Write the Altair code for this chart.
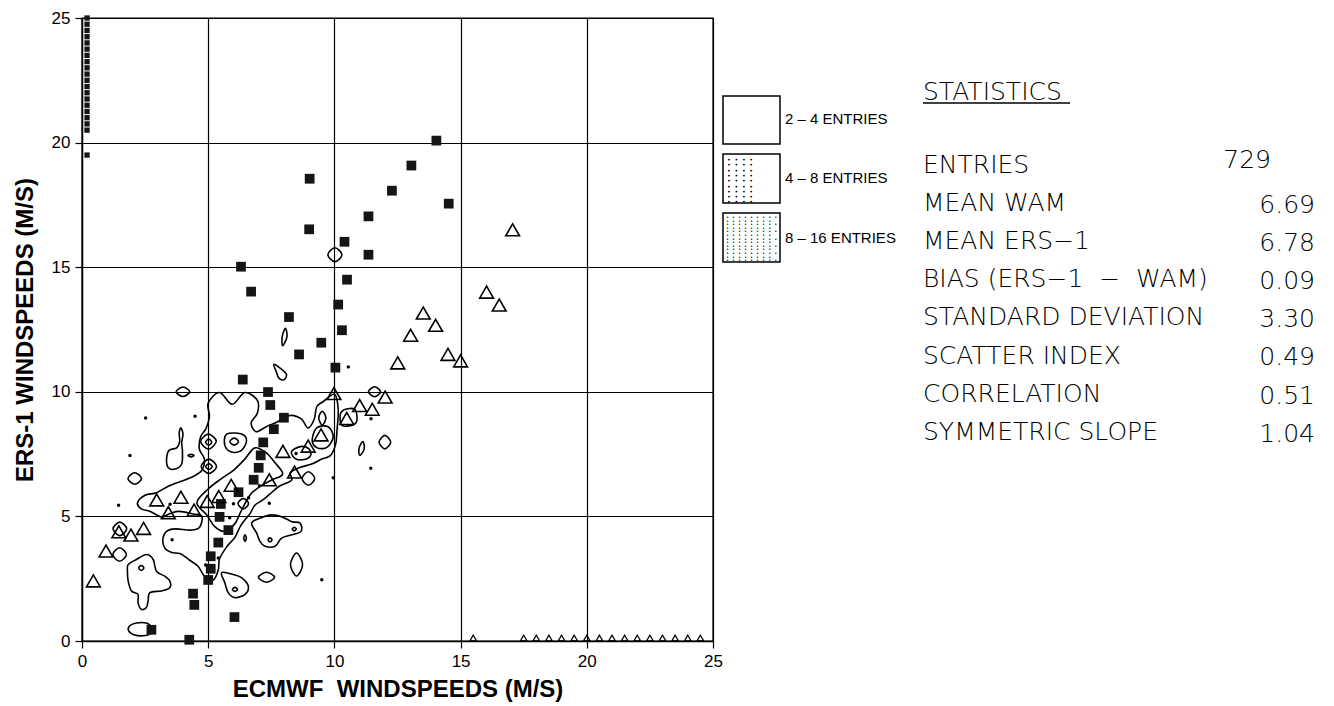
import altair as alt
import pandas as pd

# ---------------- axis ticks ----------------
axis_ticks = [0, 5, 10, 15, 20, 25]

# ---------------- collocations by class ----------------
# dark squares: single collocations on the ERS-1 half-metre bins
square_pts = [(2.75, 0.45), (4.25, 0.05), (4.4, 1.9), (4.45, 1.45), (5.0, 2.45),
              (5.1, 2.9), (5.1, 3.4), (5.4, 3.95), (5.8, 4.45), (5.45, 4.98),
              (5.5, 5.5), (6.2, 5.97), (6.04, 0.96), (6.8, 6.47), (7.0, 6.95),
              (7.08, 7.45), (7.18, 7.97), (7.6, 8.5), (8.0, 8.96), (7.46, 9.47),
              (7.37, 9.99), (6.37, 10.49), (10.04, 10.97), (8.6, 11.5), (9.48, 11.97),
              (10.3, 12.47), (8.2, 13.0), (10.15, 13.5), (6.7, 14.02), (10.5, 14.5),
              (6.3, 15.02), (11.35, 15.5), (10.4, 16.02), (9.0, 16.52), (11.35, 17.04),
              (14.53, 17.55), (12.28, 18.07), (9.02, 18.55), (13.05, 19.08), (14.04, 20.08)]

# open triangles: single collocations on the ECMWF half-metre bins
triangle_pts = [(0.45, 2.41), (0.95, 3.61), (1.46, 4.38), (1.94, 4.25), (2.44, 4.52),
                (2.96, 5.66), (3.42, 5.15), (3.92, 5.77), (4.44, 5.25), (4.96, 5.6),
                (5.42, 5.8), (5.91, 6.25), (7.42, 6.47), (8.42, 6.78), (7.96, 7.61),
                (8.96, 7.82), (9.47, 8.27), (10.49, 8.93), (9.98, 9.93), (11.0, 9.45),
                (11.5, 9.3), (12.01, 9.79), (12.51, 11.16), (13.02, 12.27), (14.01, 12.67),
                (14.5, 11.5), (15.0, 11.24), (13.52, 13.16), (16.03, 14.0), (16.53, 13.48),
                (17.06, 16.5)]

# isolated single points
dot_pts = [(2.52, 8.95), (4.48, 9.02), (1.9, 7.44), (1.45, 5.45), (3.49, 5.49),
           (10.55, 11.0), (11.45, 8.92), (11.44, 6.93), (9.95, 6.55), (9.5, 2.46),
           (7.42, 5.53), (6.0, 5.51), (7.03, 6.23), (3.57, 4.06), (4.9, 3.05),
           (5.4, 3.33), (5.85, 4.95), (6.6, 5.75), (8.48, 7.52)]

# points off the scale, piled on the axes
left_edge_x = 0.2
left_edge_y = [19.5, 20.5, 20.75, 21.0, 21.25, 21.5, 21.75, 22.0, 22.25, 22.5,
               22.75, 23.0, 23.25, 23.5, 23.75, 24.0, 24.25, 24.5, 24.75, 25.0]
bottom_edge_y = 0.12
bottom_edge_x = [15.5, 17.5, 18.0, 18.5, 19.0, 19.5, 20.0, 20.5, 21.0, 21.5,
                 22.0, 22.5, 23.0, 23.5, 24.0, 24.5]

# ---------------- density contours (closed loops) ----------------
c_main = [(2.2, 5.55), (2.5, 5.85), (2.95, 5.95), (3.4, 6.2), (3.9, 6.4), (4.4, 6.6),
          (4.75, 6.85), (4.85, 7.3), (4.65, 7.7), (4.7, 8.2), (4.9, 8.5), (5.05, 9.0),
          (5.0, 9.55), (5.45, 9.97), (5.95, 9.5), (6.45, 9.97), (6.95, 9.65),
          (6.95, 9.15), (6.7, 8.75), (6.9, 8.4), (7.3, 8.6), (7.75, 8.8), (8.25, 9.05),
          (8.7, 8.9), (8.95, 8.55), (9.2, 8.9), (9.3, 9.4), (9.55, 9.6), (10.0, 9.9),
          (10.15, 9.3), (10.1, 8.4), (10.05, 7.9), (9.85, 7.45), (9.5, 7.3), (9.1, 7.1),
          (8.6, 6.95), (8.25, 6.75), (8.3, 6.45), (7.8, 6.2), (7.45, 5.9), (7.15, 5.65),
          (6.85, 5.45), (6.65, 5.1), (6.3, 4.65), (6.05, 4.15), (5.75, 3.8), (5.45, 3.3),
          (5.4, 2.85), (5.2, 2.45), (4.85, 2.6), (4.6, 3.0), (4.25, 3.25), (3.9, 3.5),
          (3.55, 3.55), (3.3, 3.7), (3.2, 4.05), (3.35, 4.4), (3.7, 4.5), (4.3, 4.45),
          (4.65, 4.55), (4.75, 5.0), (4.4, 5.1), (3.85, 5.2), (3.5, 5.12), (3.15, 4.98),
          (2.7, 5.2), (2.35, 5.3)]
c_band = [(4.55, 5.55), (5.0, 6.1), (5.5, 6.5), (6.0, 6.85), (6.45, 7.3), (6.85, 7.75),
          (7.3, 7.55), (7.65, 7.15), (7.95, 6.7), (7.5, 6.45), (7.05, 6.2), (6.65, 5.85),
          (6.3, 5.2), (6.05, 4.7), (5.65, 4.4), (5.25, 4.6), (4.95, 5.05)]
c_ring58_out = [(4.7, 8.0), (5.0, 8.3), (5.32, 8.02), (5.02, 7.7)]
c_ring58_in = [(4.9, 7.98), (5.02, 8.1), (5.14, 7.98), (5.02, 7.86)]
c_ring68_out = [(5.66, 7.85), (5.73, 8.3), (6.32, 8.31), (6.52, 8.05), (6.32, 7.65), (5.93, 7.58)]
c_ring68_in = [(5.86, 8.0), (6.03, 8.14), (6.2, 8.0), (6.03, 7.86)]
c_ring57_out = [(4.72, 7.0), (5.03, 7.3), (5.33, 7.0), (5.03, 6.72)]
c_ring57_in = [(4.9, 7.0), (5.03, 7.11), (5.16, 7.0), (5.03, 6.89)]
c_ring655 = [(6.18, 5.52), (6.39, 5.72), (6.6, 5.52), (6.39, 5.3)]
c_loop857 = [(8.3, 7.6), (8.65, 7.8), (8.98, 7.72), (9.06, 7.45), (8.8, 7.28), (8.45, 7.32)]
c_loop958 = [(9.12, 8.05), (9.3, 8.55), (9.75, 8.6), (9.95, 8.2), (9.72, 7.78), (9.32, 7.75)]
c_oval959 = [(9.38, 8.95), (9.52, 9.22), (9.66, 8.95), (9.52, 8.66)]
c_lollipop = [(3.92, 8.55), (4.0, 8.3), (3.95, 7.95), (3.98, 7.6), (3.95, 7.1), (3.7, 6.9),
              (3.42, 6.95), (3.35, 7.3), (3.45, 7.65), (3.75, 7.75), (3.87, 8.0), (3.85, 8.35)]
c_dash = [(4.2, 7.44), (4.32, 7.49), (4.44, 7.44), (4.32, 7.39)]
c_e4010 = [(3.73, 10.0), (4.0, 10.19), (4.27, 10.0), (4.0, 9.81)]
c_oval812 = [(7.95, 11.85), (7.93, 12.2), (8.06, 12.55), (8.12, 12.2)]
c_tear = [(7.6, 11.1), (7.85, 10.95), (8.1, 10.7), (8.0, 10.48), (7.8, 10.55), (7.7, 10.8)]
c_e1110 = [(11.35, 10.0), (11.59, 10.2), (11.83, 10.0), (11.59, 9.8)]
c_c128 = [(11.77, 7.98), (12.0, 8.25), (12.23, 7.98), (12.0, 7.71)]
c_oval117 = [(11.0, 7.45), (10.98, 7.75), (11.13, 8.0), (11.18, 7.7)]
c_box109 = [(10.3, 8.65), (10.28, 9.2), (10.8, 9.3), (10.85, 8.75)]
c_e2165 = [(1.82, 6.52), (2.09, 6.75), (2.36, 6.52), (2.09, 6.29)]
c_e965 = [(8.72, 6.52), (8.97, 6.79), (9.22, 6.52), (8.97, 6.25)]
c_c1545 = [(1.23, 4.5), (1.5, 4.77), (1.77, 4.5), (1.5, 4.23)]
c_c1535 = [(1.22, 3.47), (1.49, 3.74), (1.76, 3.47), (1.49, 3.2)]
c_oval853 = [(8.26, 3.07), (8.5, 3.53), (8.74, 3.07), (8.5, 2.61)]
c_e7325 = [(6.99, 2.56), (7.31, 2.76), (7.63, 2.56), (7.31, 2.36)]
c_lowleft = [(1.83, 3.07), (2.16, 3.27), (2.55, 3.47), (2.82, 3.27), (2.95, 2.8), (3.28, 2.6),
             (3.48, 2.4), (3.48, 2.14), (3.15, 2.01), (2.69, 1.94), (2.62, 1.61), (2.55, 1.34),
             (2.35, 1.27), (2.22, 1.54), (2.22, 1.87), (1.96, 2.01), (1.83, 2.4), (1.8, 2.8)]
c_lowleft_in = [(2.25, 2.93), (2.35, 3.03), (2.45, 2.93), (2.35, 2.83)]
c_bottom = [(1.89, 0.61), (2.16, 0.72), (2.55, 0.72), (2.75, 0.54), (2.69, 0.28), (2.42, 0.21),
            (2.09, 0.24), (1.85, 0.41)]
c_lowmid = [(5.53, 2.74), (5.66, 2.34), (5.79, 1.94), (6.06, 1.74), (6.46, 1.87), (6.59, 2.2),
            (6.32, 2.54), (5.99, 2.67)]
c_lowmid_in = [(5.96, 2.07), (6.06, 2.15), (6.16, 2.07), (6.06, 1.99)]
c_right = [(6.72, 4.73), (7.05, 4.93), (7.51, 5.06), (7.91, 4.99), (8.31, 4.79), (8.64, 4.73),
           (8.68, 4.4), (8.31, 4.26), (7.91, 4.13), (7.65, 3.8), (7.25, 3.8), (7.05, 4.0),
           (6.92, 4.33)]
c_right_in1 = [(7.37, 4.06), (7.45, 4.14), (7.53, 4.06), (7.45, 3.98)]
c_right_in2 = [(8.33, 4.49), (8.41, 4.56), (8.49, 4.49), (8.41, 4.42)]
c_oval6441 = [(6.41, 4.13), (6.46, 4.26), (6.51, 4.13), (6.46, 4.0)]
c_c1015 = [(9.74, 15.5), (10.02, 15.78), (10.3, 15.5), (10.02, 15.22)]

contour_loops = [c_main, c_band, c_ring58_out, c_ring58_in, c_ring68_out, c_ring68_in,
                 c_ring57_out, c_ring57_in, c_ring655, c_loop857, c_loop958, c_oval959,
                 c_lollipop, c_dash, c_e4010, c_oval812, c_tear, c_e1110, c_c128, c_oval117,
                 c_box109, c_e2165, c_e965, c_c1545, c_c1535, c_oval853, c_e7325, c_lowleft,
                 c_lowleft_in, c_bottom, c_lowmid, c_lowmid_in, c_right, c_right_in1,
                 c_right_in2, c_oval6441, c_c1015]

# ---------------- legend and statistics ----------------
legend_labels = ["2 \u2013 4 ENTRIES", "4 \u2013 8 ENTRIES", "8 \u2013 16 ENTRIES"]
stats_title = "STATISTICS"
stat_labels = ["ENTRIES", "MEAN WAM", "MEAN ERS\u22121",
               "BIAS (ERS\u22121\u00a0\u00a0\u2212\u00a0\u00a0WAM)",
               "STANDARD DEVIATION", "SCATTER INDEX", "CORRELATION", "SYMMETRIC SLOPE"]
stat_entries = "729"
stat_values = ["6.69", "6.78", "0.09", "3.30", "0.49", "0.51", "1.04"]

# ---------------- frames ----------------
def frame(points):
    return pd.DataFrame({"x": [p[0] for p in points], "y": [p[1] for p in points]})

rows = []
for k, loop in enumerate(contour_loops):
    for i, (x, y) in enumerate(loop):
        rows.append({"loop": k, "i": i, "x": x, "y": y})
contours = pd.DataFrame(rows)

left_edge = pd.DataFrame({"x": [left_edge_x] * len(left_edge_y), "y": left_edge_y})
bottom_edge = pd.DataFrame({"x": bottom_edge_x, "y": [bottom_edge_y] * len(bottom_edge_x)})

FONT = "Liberation Sans"
axis_common = dict(
    values=axis_ticks, format="d", grid=True, gridColor="black", gridWidth=1.2,
    gridOpacity=1, domainColor="black", domainWidth=1.4, tickColor="black",
    tickSize=7, tickWidth=1.2, labelFont=FONT, labelFontSize=17, labelColor="black",
    labelPadding=5, labelFlush=False, labelOverlap=False, titleFont=FONT,
    titleFontSize=24, titleFontWeight="bold", titleColor="black",
)
X = alt.X("x:Q", scale=alt.Scale(domain=[0, 25], nice=False, zero=False),
          axis=alt.Axis(title="ECMWF\u00a0 WINDSPEEDS (M/S)", titlePadding=8, **axis_common))
Y = alt.Y("y:Q", scale=alt.Scale(domain=[0, 25], nice=False, zero=False),
          axis=alt.Axis(title="ERS-1 WINDSPEEDS (M/S)", titlePadding=14, **axis_common))

contour_layer = alt.Chart(contours).mark_line(
    interpolate="cardinal-closed", color="black", strokeWidth=1.6
).encode(x=X, y=Y, detail="loop:N", order="i:Q")

square_layer = alt.Chart(frame(square_pts)).mark_square(
    size=95, color="#151515", opacity=1
).encode(x=X, y=Y)

triangle_layer = alt.Chart(frame(triangle_pts)).mark_point(
    shape="triangle-up", filled=False, color="black", size=190, strokeWidth=1.6, opacity=1
).encode(x=X, y=Y)

dot_layer = alt.Chart(frame(dot_pts)).mark_circle(
    size=12, color="black", opacity=1
).encode(x=X, y=Y)

left_layer = alt.Chart(left_edge).mark_square(
    size=28, color="#151515", opacity=1
).encode(x=X, y=Y)

bottom_layer = alt.Chart(bottom_edge).mark_point(
    shape="triangle-up", filled=False, color="black", size=45, strokeWidth=1.2, opacity=1
).encode(x=X, y=Y)

one = pd.DataFrame({"t": [""]})

def legend_box(y0, y1):
    return alt.Chart(one).mark_rect(fill="white", stroke="black", strokeWidth=1.5).encode(
        x=alt.value(641), x2=alt.value(698), y=alt.value(y0), y2=alt.value(y1))

def label(text, x, y, size, align="left", baseline="middle", font=FONT, weight="normal",
          line_height=None):
    kw = dict(align=align, baseline=baseline, font=font, fontSize=size, fontWeight=weight,
              color="black", lineBreak="\n")
    if line_height is not None:
        kw["lineHeight"] = line_height
    return alt.Chart(pd.DataFrame({"t": [text]})).mark_text(**kw).encode(
        text="t:N", x=alt.value(x), y=alt.value(y))

# stipple textures of the shaded legend boxes
sparse_a, sparse_b = "\u2022   \u2022   \u2022   \u2022", "  \u2022   \u2022   \u2022   \u2022"
dense_a = "\u2022 \u2022 \u2022 \u2022 \u2022 \u2022 \u2022 \u2022 \u2022"
dense_b = " \u2022 \u2022 \u2022 \u2022 \u2022 \u2022 \u2022 \u2022"
sparse_texture = "\n".join([sparse_a, sparse_b] * 4 + [sparse_a])
dense_texture = "\n".join([dense_a, dense_b] * 6 + [dense_a])

STATS_FONT = "DejaVu Sans"
STATS_WEIGHT = 200
layers = [
    contour_layer, square_layer, triangle_layer, dot_layer, left_layer, bottom_layer,
    legend_box(78, 126), legend_box(136, 185), legend_box(195, 244),
    label(sparse_texture, 645, 139, 6.2, baseline="top", font="DejaVu Sans Mono", line_height=5.3),
    label(dense_texture, 644, 197, 5.0, baseline="top", font="DejaVu Sans Mono", line_height=3.6),
    label(legend_labels[0], 703, 101, 15),
    label(legend_labels[1], 703, 160, 15),
    label(legend_labels[2], 703, 220, 15),
    label(stats_title, 841, 82, 25, baseline="alphabetic", font=STATS_FONT, weight=STATS_WEIGHT),
    alt.Chart(one).mark_rule(color="black", strokeWidth=1.5).encode(
        x=alt.value(841), x2=alt.value(988), y=alt.value(85)),
    label("\n".join(stat_labels), 841, 155, 25, baseline="alphabetic", font=STATS_FONT,
          weight=STATS_WEIGHT, line_height=38.1),
    label(stat_entries, 1189, 150, 25, align="right", baseline="alphabetic",
          font=STATS_FONT, weight=STATS_WEIGHT),
    label("\n".join(stat_values), 1233, 195, 25, align="right", baseline="alphabetic",
          font=STATS_FONT, weight=STATS_WEIGHT, line_height=38.1),
]

chart = alt.layer(*layers).properties(
    width=631, height=623,
    padding={"left": 13, "top": 9, "right": 10, "bottom": 8},
    background="white",
).configure_view(stroke="black", strokeWidth=1.4)

chart.save("out.html", embed_options={"renderer": "svg", "actions": False})
